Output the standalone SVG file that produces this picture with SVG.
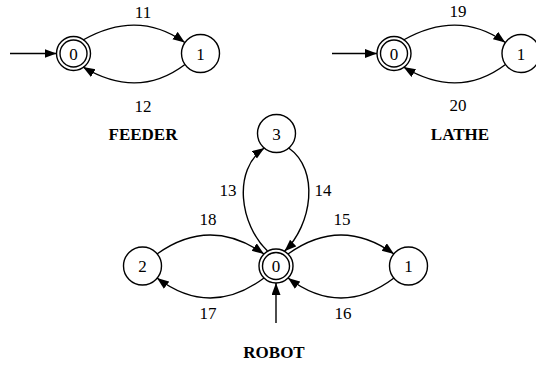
<svg xmlns="http://www.w3.org/2000/svg" width="536" height="369" viewBox="0 0 536 369">
  <style>
    .st { fill: none; stroke: #000; stroke-width: 1.4; }
    .ed { fill: none; stroke: #000; stroke-width: 1.4; marker-end: url(#ah); }
    text { font-family: 'Liberation Serif', 'Times New Roman', Times, 'DejaVu Serif', serif; fill: #000; text-anchor: middle; }
    .nl { font-size: 17px; }
    .el { font-size: 17px; }
    .tt { font-size: 17px; font-weight: bold; }
  </style>
  <defs>
    <marker id="ah" markerUnits="userSpaceOnUse" markerWidth="13" markerHeight="10" refX="12" refY="4.5" orient="auto">
      <path d="M0,0 L12,4.5 L0,9 z" fill="#000"/>
    </marker>
  </defs>
  <rect width="536" height="369" fill="#fff"/>

  <!-- FEEDER -->
  <g id="feeder-0">
    <circle class="st" cx="73.5" cy="53.5" r="17"/>
    <circle class="st" cx="73.5" cy="53.5" r="13.5"/>
    <text class="nl" x="73.5" y="59.5">0</text>
  </g>
  <g id="feeder-1">
    <circle class="st" cx="200.5" cy="53.5" r="19"/>
    <text class="nl" x="200.5" y="59.5">1</text>
  </g>

  <!-- LATHE -->
  <g id="lathe-0">
    <circle class="st" cx="394" cy="53.5" r="17"/>
    <circle class="st" cx="394" cy="53.5" r="13.5"/>
    <text class="nl" x="394" y="59.5">0</text>
  </g>
  <g id="lathe-1">
    <circle class="st" cx="521" cy="53.5" r="19"/>
    <text class="nl" x="521" y="59.5">1</text>
  </g>

  <!-- ROBOT -->
  <g id="robot-0">
    <circle class="st" cx="276" cy="266" r="17"/>
    <circle class="st" cx="276" cy="266" r="13.5"/>
    <text class="nl" x="276" y="272">0</text>
  </g>
  <g id="robot-1">
    <circle class="st" cx="408.5" cy="266" r="19"/>
    <text class="nl" x="408.5" y="272">1</text>
  </g>
  <g id="robot-2">
    <circle class="st" cx="142.5" cy="266" r="19"/>
    <text class="nl" x="142.5" y="272">2</text>
  </g>
  <g id="robot-3">
    <circle class="st" cx="276.5" cy="133.5" r="19"/>
    <text class="nl" x="276.5" y="139.5">3</text>
  </g>

  <!-- transitions -->
  <g id="connectors">
    <!-- FEEDER -->
    <path class="ed" d="M10,53.5 L56.5,53.5"/>
    <path class="ed" d="M83,40 Q138,9 184.8,42.5"/>
    <path class="ed" d="M185,64.5 Q138,100 83,67"/>
    <!-- LATHE -->
    <path class="ed" d="M332,53.5 L377,53.5"/>
    <path class="ed" d="M403.5,40 Q458.5,9 505.3,42.5"/>
    <path class="ed" d="M505.5,64.5 Q458.5,100 403.5,67"/>
    <!-- ROBOT -->
    <path class="ed" d="M276,323 L276,283"/>
    <path class="ed" d="M157,254 Q210,216 264,254"/>
    <path class="ed" d="M288,254 Q341,216 394,254"/>
    <path class="ed" d="M264,278 Q210,318 157,278"/>
    <path class="ed" d="M394,278 Q341,318 288,278"/>
    <path class="ed" d="M267.5,251 C240,225 232,170 264.3,148"/>
    <path class="ed" d="M288.7,148 C320,170 312,225 284.5,251.3"/>
  </g>

  <!-- transition labels -->
  <g id="labels">
    <text class="el" x="143" y="17.5">11</text>
    <text class="el" x="143" y="111.5">12</text>
    <text class="el" x="458" y="17">19</text>
    <text class="el" x="458" y="110.5">20</text>
    <text class="el" x="228" y="196">13</text>
    <text class="el" x="323" y="196">14</text>
    <text class="el" x="208" y="225">18</text>
    <text class="el" x="342" y="225">15</text>
    <text class="el" x="208" y="319">17</text>
    <text class="el" x="343" y="319">16</text>
  </g>

  <!-- automaton names -->
  <text class="tt" x="143" y="140">FEEDER</text>
  <text class="tt" x="460" y="140">LATHE</text>
  <text class="tt" x="274" y="358">ROBOT</text>
</svg>
